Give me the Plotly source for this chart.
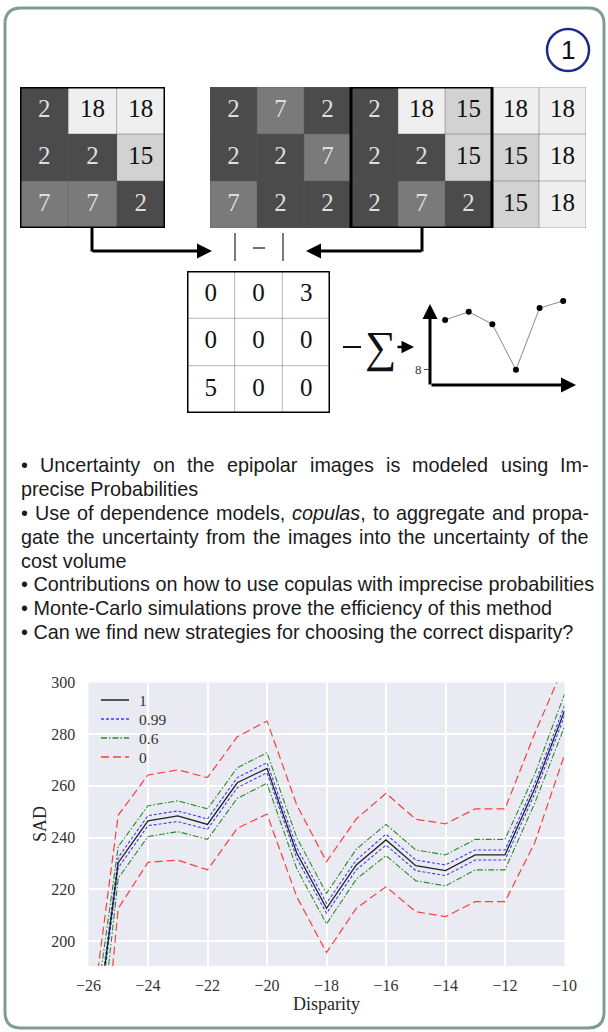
import plotly.graph_objects as go

W, H = 608, 1032
def X(px): return px / W
def Y(py): return 1 - py / H

# ---------------- data ----------------
left_patch = [[2, 18, 18], [2, 2, 15], [7, 7, 2]]
right_strip = [[2, 7, 2, 2, 18, 15, 18, 18],
               [2, 2, 7, 2, 2, 15, 15, 18],
               [7, 2, 2, 2, 7, 2, 15, 18]]
window_start = 3
abs_diff = [[0, 0, 3], [0, 0, 0], [5, 0, 0]]

sketch_x = [1, 2, 3, 4, 5, 6]
sketch_sad = [18.5, 20.2, 17.6, 8, 21.0, 22.5]

disparity = list(range(-26, -9))
sad_rho1 = [141, 230.3, 246.5, 248.4, 245.1, 261.2, 266.8, 234.0, 212.6, 229.4, 239.1, 229.1, 227.2, 233.3, 233.3, 259.0, 289.0]
sad_099_up = [143, 232.3, 248.5, 250.3, 247.2, 263.2, 269.0, 236.2, 214.6, 231.3, 241.3, 231.3, 229.4, 235.2, 235.2, 261.0, 291.0]
sad_099_lo = [139, 228.3, 244.6, 246.2, 243.2, 259.3, 265.1, 232.0, 210.7, 227.5, 237.1, 227.2, 225.3, 231.3, 231.3, 257.0, 287.0]
sad_06_up = [153.5, 236.5, 252.3, 254.2, 251.1, 267.0, 272.8, 240.0, 218.4, 235.5, 245.1, 235.2, 233.3, 239.3, 239.3, 264.5, 295.5]
sad_06_lo = [120, 224.3, 240.4, 242.3, 239.3, 255.2, 261.0, 228.0, 206.6, 223.9, 233.0, 223.3, 221.3, 227.5, 227.5, 253.3, 283.0]
sad_0_up = [161, 248.7, 264.2, 266.2, 263.2, 279.0, 285.1, 252.6, 230.7, 247.2, 257.1, 247.1, 245.3, 251.1, 251.1, 280.3, 307.0]
sad_0_lo = [93, 212.6, 230.4, 231.3, 227.5, 243.6, 249.1, 217.1, 195.5, 212.6, 221.0, 211.3, 209.4, 215.2, 215.2, 238.0, 272.0]

x_ticks = [-26, -24, -22, -20, -18, -16, -14, -12, -10]
y_ticks = [200, 220, 240, 260, 280, 300]
legend_labels = ["1", "0.99", "0.6", "0"]

# (text, justified?)
bullets = [
    ("• Uncertainty on the epipolar images is modeled using Im-", True),
    ("precise Probabilities", False),
    ("• Use of dependence models, <i>copulas</i>, to aggregate and propa-", True),
    ("gate the uncertainty from the images into the uncertainty of the", True),
    ("cost volume", False),
    ("• Contributions on how to use copulas with imprecise probabilities", False),
    ("• Monte-Carlo simulations prove the efficiency of this method", False),
    ("• Can we find new strategies for choosing the correct disparity?", False),
]

SERIF = "Liberation Serif, DejaVu Serif, serif"
SANS = "Liberation Sans, Arial, sans-serif"
TXT_SIZE = 19.8

# Arial / Liberation Sans advance widths (1/1000 em)
AW = {' ': 278, 'a': 556, 'b': 556, 'c': 500, 'd': 556, 'e': 556, 'f': 278, 'g': 556, 'h': 556,
      'i': 222, 'j': 222, 'k': 500, 'l': 222, 'm': 833, 'n': 556, 'o': 556, 'p': 556, 'q': 556,
      'r': 333, 's': 500, 't': 278, 'u': 556, 'v': 500, 'w': 722, 'x': 500, 'y': 500, 'z': 500,
      'I': 278, 'U': 722, 'P': 667, 'C': 722, 'M': 833, ',': 278, '-': 333, '.': 278, '?': 556,
      '•': 350}
def text_w(s, size):
    s = s.replace("<i>", "").replace("</i>", "")
    return sum(AW.get(ch, 556) for ch in s) / 1000 * size

grey_scale = [[0.0, "#4b4b4b"], [5 / 16, "#7a7a7a"], [13 / 16, "#d2d2d2"], [1.0, "#efefef"]]

fig = go.Figure()
shapes = []
annotations = []

def note(px, py, text, size, family=SERIF, color="#111", xanchor="center", yanchor="middle", **kw):
    annotations.append(dict(x=X(px), y=Y(py), xref="paper", yref="paper", text=text, showarrow=False,
                            xanchor=xanchor, yanchor=yanchor, borderpad=0,
                            font=dict(family=family, size=size, color=color), **kw))

def txt_colors(mat):
    return [("#dedede" if v < 10 else "#111111") for row in mat for v in row]

def add_grid(mat, xa, ya, colorscale, bold_cols=None, outer_thin=False, colored=True):
    nr, nc = len(mat), len(mat[0])
    fig.add_trace(go.Heatmap(z=mat, x=list(range(nc)), y=list(range(nr)), zmin=2, zmax=18,
                             colorscale=colorscale, showscale=False, hoverinfo="skip",
                             xaxis=xa, yaxis=ya))
    xs = [c for r in range(nr) for c in range(nc)]
    ys = [r for r in range(nr) for c in range(nc)]
    fig.add_trace(go.Scatter(x=xs, y=ys, mode="text", text=[str(v) for row in mat for v in row],
                             textfont=dict(family=SERIF, size=25, color=txt_colors(mat) if colored else "#111"),
                             hoverinfo="skip", showlegend=False, xaxis=xa, yaxis=ya))
    rng_c = range(0, nc + 1) if outer_thin else range(1, nc)
    rng_r = range(0, nr + 1) if outer_thin else range(1, nr)
    for c in rng_c:
        shapes.append(dict(type="line", xref=xa, yref=ya, x0=c - 0.5, x1=c - 0.5, y0=-0.5, y1=nr - 0.5,
                           line=dict(color="rgba(90,90,90,0.45)", width=1)))
    for r in rng_r:
        shapes.append(dict(type="line", xref=xa, yref=ya, x0=-0.5, x1=nc - 0.5, y0=r - 0.5, y1=r - 0.5,
                           line=dict(color="rgba(90,90,90,0.45)", width=1)))
    c0, c1 = bold_cols if bold_cols else (0, nc)
    shapes.append(dict(type="rect", xref=xa, yref=ya, x0=c0 - 0.5, x1=c1 - 0.5, y0=-0.5, y1=nr - 0.5,
                       line=dict(color="black", width=3)))

add_grid(left_patch, "x2", "y2", grey_scale)
add_grid(right_strip, "x3", "y3", grey_scale, bold_cols=(window_start, window_start + 3), outer_thin=True)
add_grid(abs_diff, "x4", "y4", [[0, "white"], [1, "white"]], colored=False)

# sketch of cost curve
fig.add_trace(go.Scatter(x=sketch_x, y=sketch_sad, mode="lines+markers",
                         line=dict(color="#8a8a8a", width=1), marker=dict(color="black", size=6),
                         hoverinfo="skip", showlegend=False, xaxis="x5", yaxis="y5"))

# main chart  (colour, dash, width)
styles = {
    "1": ("#222222", "solid", 1.3),
    "0.99": ("rgba(30,30,255,0.85)", "3px,2px", 1.1),
    "0.6": ("rgba(0,128,0,0.85)", "6px,2px,1.5px,2px", 1.1),
    "0": ("rgba(255,30,30,0.85)", "8px,4px", 1.2),
}
for name, bounds in [("0", (sad_0_up, sad_0_lo)), ("0.6", (sad_06_up, sad_06_lo)),
                     ("0.99", (sad_099_up, sad_099_lo)), ("1", (sad_rho1,))]:
    col, dash, w = styles[name]
    for yv in bounds:
        fig.add_trace(go.Scatter(x=disparity, y=yv, mode="lines", name=name, showlegend=False,
                                 line=dict(color=col, dash=dash, width=w), hoverinfo="skip"))

# legend (drawn inside the axes like the matplotlib original)
for i, lab in enumerate(legend_labels):
    col, dash, w = styles[lab]
    ly = 700 + 19 * i
    shapes.append(dict(type="line", xref="paper", yref="paper", x0=X(101), x1=X(129), y0=Y(ly), y1=Y(ly),
                       line=dict(color=col, dash=dash, width=w + 0.2)))
    note(138, ly, lab, 15.5, color="#333", xanchor="left")

# background of main plot (below gridlines)
shapes.append(dict(type="rect", xref="x domain", yref="y domain", x0=0, x1=1, y0=0, y1=1,
                   fillcolor="#eaeaf2", line=dict(width=0), layer="below"))

# outer rounded border
r = 16
L, T, R, B = 5, 8, 604, 1028
path = (f"M {X(L+r)},{Y(T)} L {X(R-r)},{Y(T)} Q {X(R)},{Y(T)} {X(R)},{Y(T+r)} "
        f"L {X(R)},{Y(B-r)} Q {X(R)},{Y(B)} {X(R-r)},{Y(B)} L {X(L+r)},{Y(B)} "
        f"Q {X(L)},{Y(B)} {X(L)},{Y(B-r)} L {X(L)},{Y(T+r)} Q {X(L)},{Y(T)} {X(L+r)},{Y(T)} Z")
shapes.append(dict(type="path", xref="paper", yref="paper", path=path, line=dict(color="#7f9c90", width=3)))

# circled number
shapes.append(dict(type="circle", xref="paper", yref="paper", x0=X(547), x1=X(589), y0=Y(71), y1=Y(29),
                   line=dict(color="#1c2a88", width=2.5)))
note(568, 50, "1", 26, family=SANS)

# connectors
for xs in (92, 422):
    shapes.append(dict(type="line", xref="paper", yref="paper", x0=X(xs), x1=X(xs), y0=Y(228), y1=Y(251.5),
                       line=dict(color="black", width=3)))
def arrow(hx, hy, ax, ay, w=3):
    annotations.append(dict(x=X(hx), y=Y(hy), xref="paper", yref="paper", text="", showarrow=True,
                            ax=ax, ay=ay, arrowhead=2, arrowsize=1, arrowwidth=w, arrowcolor="black"))
arrow(212, 251, -121, 0)
arrow(306, 251, 117, 0)
for xb in (235, 283):
    shapes.append(dict(type="line", xref="paper", yref="paper", x0=X(xb), x1=X(xb), y0=Y(233), y1=Y(261),
                       line=dict(color="#222", width=1.2)))
shapes.append(dict(type="line", xref="paper", yref="paper", x0=X(253), x1=X(265), y0=Y(248), y1=Y(248),
                   line=dict(color="#222", width=1.3)))

# sum arrow
shapes.append(dict(type="line", xref="paper", yref="paper", x0=X(343), x1=X(361), y0=Y(347), y1=Y(347),
                   line=dict(color="#111", width=2)))
note(380, 348, "∑", 44)
arrow(414, 347, -18, 0, 2.5)
# sketch axes arrows
arrow(576, 385, -146, 0)
arrow(430, 304, 0, 82)

# bullet text (justified lines are laid out word by word)
line_y = [465, 489, 513, 537, 561, 584, 608, 632]
LEFT, RIGHT = 20, 588
for yy, (t, just) in zip(line_y, bullets):
    if just:
        words = t.split(" ")
        widths = [text_w(wd, TXT_SIZE) for wd in words]
        gap = (RIGHT - LEFT - sum(widths)) / (len(words) - 1)
        cx = LEFT
        for wd, ww in zip(words, widths):
            note(cx, yy, wd, TXT_SIZE, family=SANS, color="#1a1a1a", xanchor="left")
            cx += ww + gap
    else:
        note(LEFT, yy, t, TXT_SIZE, family=SANS, color="#1a1a1a", xanchor="left")

# axis titles
note(40, 824, "SAD", 18, color="#262626", textangle=-90)
note(326, 1004, "Disparity", 18, color="#262626")

hidden = dict(visible=False, fixedrange=True, showgrid=False, zeroline=False, automargin=False)
fig.update_layout(
    width=W, height=H, margin=dict(l=0, r=0, t=0, b=0, pad=0, autoexpand=False),
    paper_bgcolor="white", plot_bgcolor="rgba(0,0,0,0)",
    hovermode=False, showlegend=False,
    xaxis=dict(domain=[X(88.5), X(564.5)], range=[-26, -10], tickvals=x_ticks,
               ticktext=[f"−{abs(v)}" for v in x_ticks], showgrid=True, gridcolor="white", gridwidth=1.5,
               zeroline=False, showline=False, ticks="outside", ticklen=5, tickcolor="rgba(0,0,0,0)",
               tickfont=dict(family=SERIF, size=16, color="#333"), anchor="y", automargin=False,
               fixedrange=True),
    yaxis=dict(domain=[Y(966), Y(682.5)], range=[190.3, 300], tickvals=y_ticks,
               showgrid=True, gridcolor="white", gridwidth=1.5, zeroline=False, showline=False,
               ticks="outside", ticklen=9, tickcolor="rgba(0,0,0,0)",
               tickfont=dict(family=SERIF, size=16, color="#333"), anchor="x", automargin=False,
               fixedrange=True),
    xaxis2=dict(hidden, domain=[X(20), X(165)], range=[-0.5, 2.5], anchor="y2"),
    yaxis2=dict(hidden, domain=[Y(228), Y(87)], range=[2.5, -0.5], anchor="x2"),
    xaxis3=dict(hidden, domain=[X(210), X(586)], range=[-0.5, 7.5], anchor="y3"),
    yaxis3=dict(hidden, domain=[Y(228), Y(87)], range=[2.5, -0.5], anchor="x3"),
    xaxis4=dict(hidden, domain=[X(187), X(330)], range=[-0.5, 2.5], anchor="y4"),
    yaxis4=dict(hidden, domain=[Y(413), Y(271)], range=[2.5, -0.5], anchor="x4"),
    xaxis5=dict(hidden, domain=[X(430), X(575)], range=[0.36, 6.5], anchor="y5"),
    yaxis5=dict(domain=[Y(385), Y(290)], range=[4.8, 24.8], tickvals=[8], ticks="outside", ticklen=5,
                tickcolor="#555", showgrid=False, zeroline=False, showline=False, fixedrange=True,
                tickfont=dict(family=SERIF, size=13, color="#333"), anchor="x5", automargin=False),
    shapes=shapes, annotations=annotations,
)

fig.write_html("out.html", config={"displayModeBar": False},
               post_script="document.body.style.margin='0px';")
